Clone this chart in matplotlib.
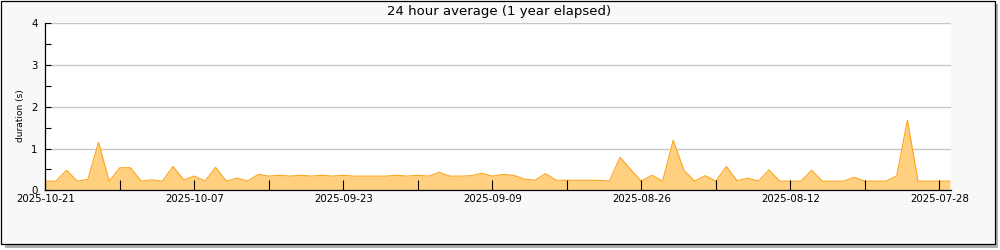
import numpy as np
import matplotlib.pyplot as plt
from matplotlib.patches import Rectangle

title = '24 hour average (1 year elapsed)'
y_label = 'duration (s)'
tick_labels = ['2025-10-21', '2025-10-07', '2025-09-23', '2025-09-09',
               '2025-08-26', '2025-08-12', '2025-07-28']

# one value per day, newest first
durations = [0.22, 0.22, 0.48, 0.22, 0.26, 1.15, 0.22, 0.54, 0.54, 0.22,
             0.25, 0.22, 0.57, 0.25, 0.34, 0.22, 0.55, 0.22, 0.29, 0.22,
             0.38, 0.34, 0.36, 0.34, 0.36, 0.34, 0.36, 0.34, 0.36, 0.34,
             0.34, 0.34, 0.34, 0.36, 0.34, 0.36, 0.34, 0.43, 0.34, 0.34,
             0.35, 0.41, 0.34, 0.38, 0.36, 0.27, 0.24, 0.40, 0.24, 0.24,
             0.24, 0.24, 0.24, 0.22, 0.79, 0.50, 0.22, 0.36, 0.22, 1.20,
             0.48, 0.22, 0.35, 0.22, 0.57, 0.23, 0.29, 0.22, 0.49, 0.22,
             0.22, 0.22, 0.48, 0.22, 0.22, 0.22, 0.31, 0.22, 0.22, 0.22,
             0.35, 1.68, 0.22, 0.22, 0.22, 0.22]

x = np.arange(len(durations))

fig = plt.figure(figsize=(10, 2.5), dpi=100)
fig.patch.set_facecolor('white')

# drop shadow and framed panel
fig.add_artist(Rectangle((0.005, 0.008), 0.993, 0.975, transform=fig.transFigure,
                         facecolor='#b0b0b0', edgecolor='none', zorder=-3))
fig.add_artist(Rectangle((0.0005, 0.023), 0.994, 0.975, transform=fig.transFigure,
                         facecolor='#f8f8f8', edgecolor='black', lw=0.9, zorder=-2))

ax = fig.add_axes([0.0453, 0.2388, 0.9057, 0.668])
ax.set_facecolor('white')

for v in [1, 2, 3, 4]:
    ax.axhline(v, color='#c8c8c8', lw=1, zorder=0.5)

ax.fill_between(x, durations, color='#ffd080', lw=0, zorder=1)
ax.plot(x, durations, color='#fba51c', lw=0.8, zorder=1.5)

ax.set_xlim(0, 85.1)
ax.set_ylim(0, 4)

ax.set_xticks(np.arange(0, 85, 14))
ax.set_xticklabels(tick_labels)
ax.set_xticks(np.arange(7, 85, 14), minor=True)
ax.set_yticks([0, 1, 2, 3, 4])
ax.set_yticks(np.arange(0.5, 4, 1), minor=True)

ax.tick_params(axis='x', which='both', direction='in', length=7, width=0.8,
               labelsize=7.4, pad=3)
ax.tick_params(axis='y', which='both', direction='in', length=4, width=0.8,
               labelsize=7.4, pad=5.5)

for s in ['top', 'right']:
    ax.spines[s].set_visible(False)
for s in ['left', 'bottom']:
    ax.spines[s].set_linewidth(0.9)

ax.set_ylabel(y_label, fontsize=6.5)
ax.yaxis.set_label_coords(-0.022, 0.45)

fig.text(0.499, 0.955, title, ha='center', va='center', fontsize=9.5)

fig.savefig('out.png', dpi=100)
